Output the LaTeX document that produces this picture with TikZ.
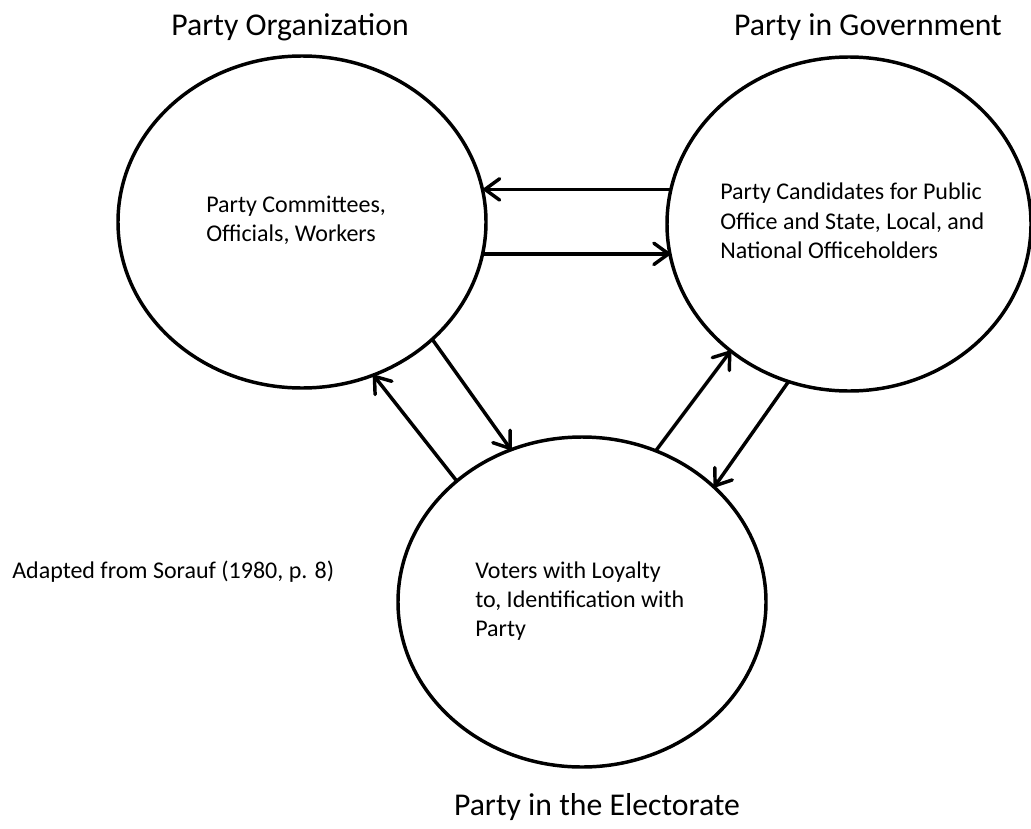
\documentclass[tikz,border=0pt]{standalone}
\usepackage{fontspec}
\setmainfont{Carlito}
\usetikzlibrary{shapes.geometric,arrows.meta}
\begin{document}
\begin{tikzpicture}[x=0.75pt,y=-0.75pt,
  circ/.style={ellipse,draw,line width=2.6pt,inner sep=0pt,outer sep=0pt},
  conn/.style={line width=2.6pt,-{Straight Barb[length=11pt,width=16pt,round]}},
  title/.style={font=\fontsize{23.8}{28}\selectfont,inner sep=0pt},
  body/.style={font=\fontsize{18}{22}\selectfont,align=left,inner sep=0pt,anchor=west}]
\useasboundingbox (0,0) rectangle (1031,828);
% ellipses
\node[circ,minimum width=276pt,minimum height=249pt] (po) at (302,222) {};
\node[circ,minimum width=273pt,minimum height=250.5pt] (pg) at (849,224) {};
\node[circ,minimum width=276pt,minimum height=247.5pt] (pe) at (582,602) {};
% titles
\node[title] (tpo) at (290,27) {Party Organization};
\node[title] (tpg) at (868,27) {Party in Government};
\node[title] (tpe) at (597,807) {Party in the Electorate};
% inner texts
\node[body] (xpo) at (206,220) {Party Committees,\\Officials, Workers};
\node[body] (xpg) at (720,221) {Party Candidates for Public\\Office and State, Local, and\\National Officeholders};
\node[body] (xpe) at (475,601) {Voters with Loyalty\\to, Identification with\\Party};
\node[body] (src) at (12,572) {Adapted from Sorauf (1980, p. 8)};
% connectors
\draw[conn] (pg.169.8) -- (po.9.41 |- pg.169.8);
\draw[conn] (po.-10.05) -- (pg.-170.49 |- po.-10.05);
\draw[conn] (po.-42.2) -- (pe.115.5);
\draw[conn] (pe.136.8) -- (po.-65.1);
\draw[conn] (pe.64.2) -- (pg.-133.2);
\draw[conn] (pg.-111.9) -- (pe.41.3);
\end{tikzpicture}
\end{document}
